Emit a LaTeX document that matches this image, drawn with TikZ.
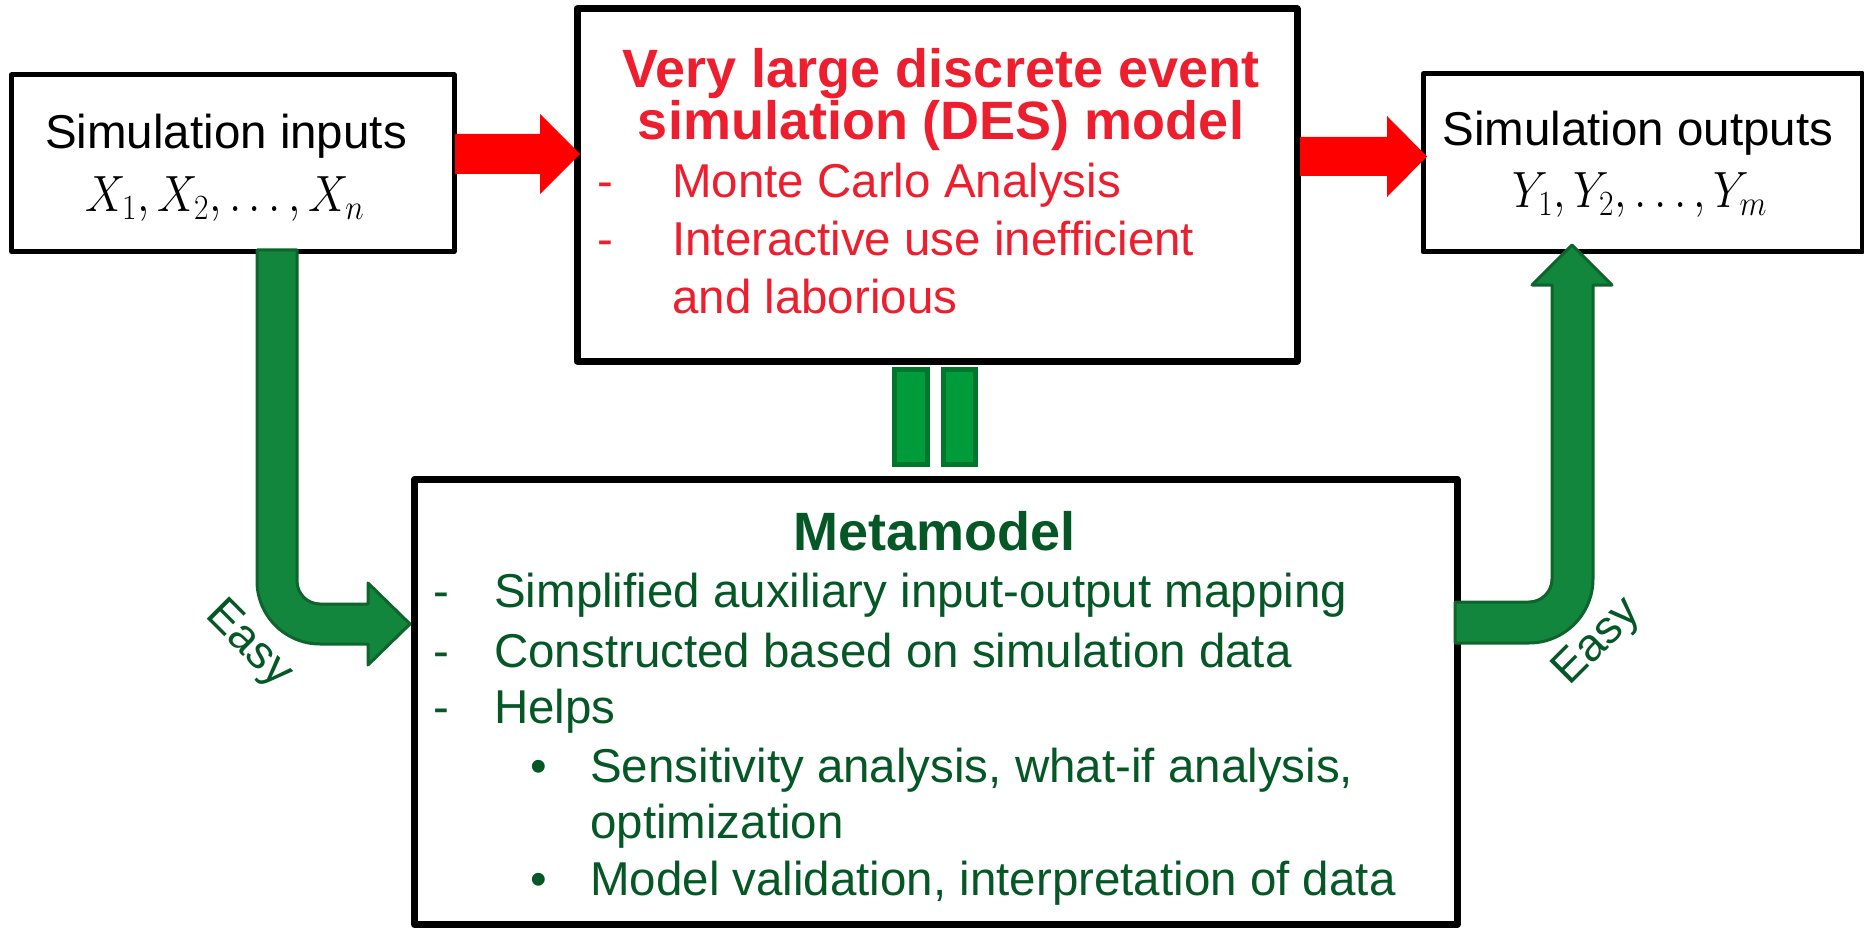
\documentclass[tikz,border=0pt]{standalone}
\usepackage{fontspec}
\setmainfont{Liberation Sans}
\definecolor{arrowred}{RGB}{255,0,0}
\definecolor{txtred}{RGB}{237,30,45}
\definecolor{txtgreen}{RGB}{5,88,38}
\definecolor{arrgreen}{RGB}{17,134,60}
\definecolor{arrgreenb}{RGB}{14,100,45}
\definecolor{eqgreen}{RGB}{0,155,58}
\definecolor{eqgreenb}{RGB}{0,118,44}
\newcommand{\regsize}{\fontsize{47.5}{57}\selectfont}
\newcommand{\bldsize}{\fontsize{54}{60}\selectfont\bfseries}
\newcommand{\bigmath}[1]{\scalebox{1.82}[2.05]{\fontsize{24}{24}\selectfont$#1$}}
\begin{document}
\begin{tikzpicture}[x=1pt,y=-1pt,
  thinbox/.style={draw=black,line width=5pt,inner sep=0pt,line join=round},
  thickbox/.style={draw=black,line width=7pt,inner sep=0pt,line join=round},
  txt/.style={inner sep=0pt,anchor=base west,font=\regsize},
  ctxt/.style={inner sep=0pt,anchor=base,font=\regsize},
  mtxt/.style={inner sep=0pt,anchor=base},
  ttl/.style={inner sep=0pt,anchor=base,font=\bldsize},
  redarrow/.style={fill=arrowred},
  greenarrow/.style={fill=arrgreen,draw=arrgreenb,line width=3pt,line join=round},
  eqbar/.style={fill=eqgreen,draw=eqgreenb,line width=5pt},
  easy/.style={inner sep=0pt,text=txtgreen,font=\fontsize{46}{46}\selectfont}]

\useasboundingbox (0,0) rectangle (1864,928);

% boxes
\node[thinbox,minimum width=442.5pt,minimum height=176.5pt] (inbox) at (232.75,163.25) {};
\node[thickbox,minimum width=720pt,minimum height=352pt] (des) at (937,185) {};
\node[thinbox,minimum width=439pt,minimum height=178pt] (outbox) at (1642.5,163) {};
\node[thickbox,minimum width=1042.5pt,minimum height=445.5pt] (meta) at (935.75,701.75) {};

% input box text
\node[ctxt] (intitle) at (226,149) {Simulation inputs};
\node[mtxt] (inmath) at (225,212) {\bigmath{X_1, X_2, \ldots, X_n}};

% output box text
\node[ctxt] (outtitle) at (1638,146) {Simulation outputs};
\node[mtxt] (outmath) at (1640,208) {\bigmath{Y_1, Y_2, \ldots, Y_m}};

% DES box text
\node[ttl,text=txtred] (des1) at (941,88) {Very large discrete event};
\node[ttl,text=txtred] (des2) at (941,140) {simulation (DES) model};
\node[txt,text=txtred] (dd1) at (597,198) {-};
\node[txt,text=txtred] (dt1) at (672,198) {Monte Carlo Analysis};
\node[txt,text=txtred] (dd2) at (597,256) {-};
\node[txt,text=txtred] (dt2) at (672,256) {Interactive use inefficient};
\node[txt,text=txtred] (dt3) at (672,313) {and laborious};

% Metamodel text
\node[ttl,text=txtgreen] (mtitle) at (934.5,550) {Metamodel};
\node[txt,text=txtgreen] (md1) at (433,607) {-};
\node[txt,text=txtgreen] (mt1) at (494,607) {Simplified auxiliary input-output mapping};
\node[txt,text=txtgreen] (md2) at (433,667) {-};
\node[txt,text=txtgreen] (mt2) at (494,667) {Constructed based on simulation data};
\node[txt,text=txtgreen] (md3) at (433,723) {-};
\node[txt,text=txtgreen] (mt3) at (494,723) {Helps};
\node[txt,text=txtgreen] (mb1) at (530,782) {•};
\node[txt,text=txtgreen] (mt4) at (590,782) {Sensitivity analysis, what-if analysis,};
\node[txt,text=txtgreen] (mt5) at (590,838) {optimization};
\node[txt,text=txtgreen] (mb2) at (530,895) {•};
\node[txt,text=txtgreen] (mt6) at (590,895) {Model validation, interpretation of data};

% red block arrows
\fill[redarrow] (455,134) -- (540,134) -- (540,114) -- (580,154) -- (540,194) -- (540,174) -- (455,174) -- cycle;
\fill[redarrow] (1300,137) -- (1387,137) -- (1387,116) -- (1427,156.5) -- (1387,197) -- (1387,176) -- (1300,176) -- cycle;

% equal sign
\draw[eqbar] (894.5,369.5) rectangle (927.5,464.5);
\draw[eqbar] (943.5,369.5) rectangle (975.5,464.5);

% left bent green arrow
\draw[greenarrow] (257,250) -- (297,250) -- (297,581)
  .. controls (297,593.7) and (307.3,604) .. (320,604)
  -- (368,604) -- (368,583) -- (410,624) -- (368,665) -- (368,644) -- (320,644)
  .. controls (285.2,644) and (257,615.8) .. (257,581) -- cycle;

% right bent green arrow
\draw[greenarrow] (1455,602) -- (1529,602)
  .. controls (1541.7,602) and (1552,591.7) .. (1552,579)
  -- (1552,285) -- (1532,285) -- (1572,245) -- (1612,285) -- (1593,285) -- (1593,579)
  .. controls (1593,614.3) and (1564.3,643) .. (1529,643)
  -- (1455,643) -- cycle;

% Easy labels
\node[easy,rotate=-45] (easyl) at (248,645) {Easy};
\node[easy,rotate=45] (easyr) at (1598,643) {Easy};

\end{tikzpicture}
\end{document}
